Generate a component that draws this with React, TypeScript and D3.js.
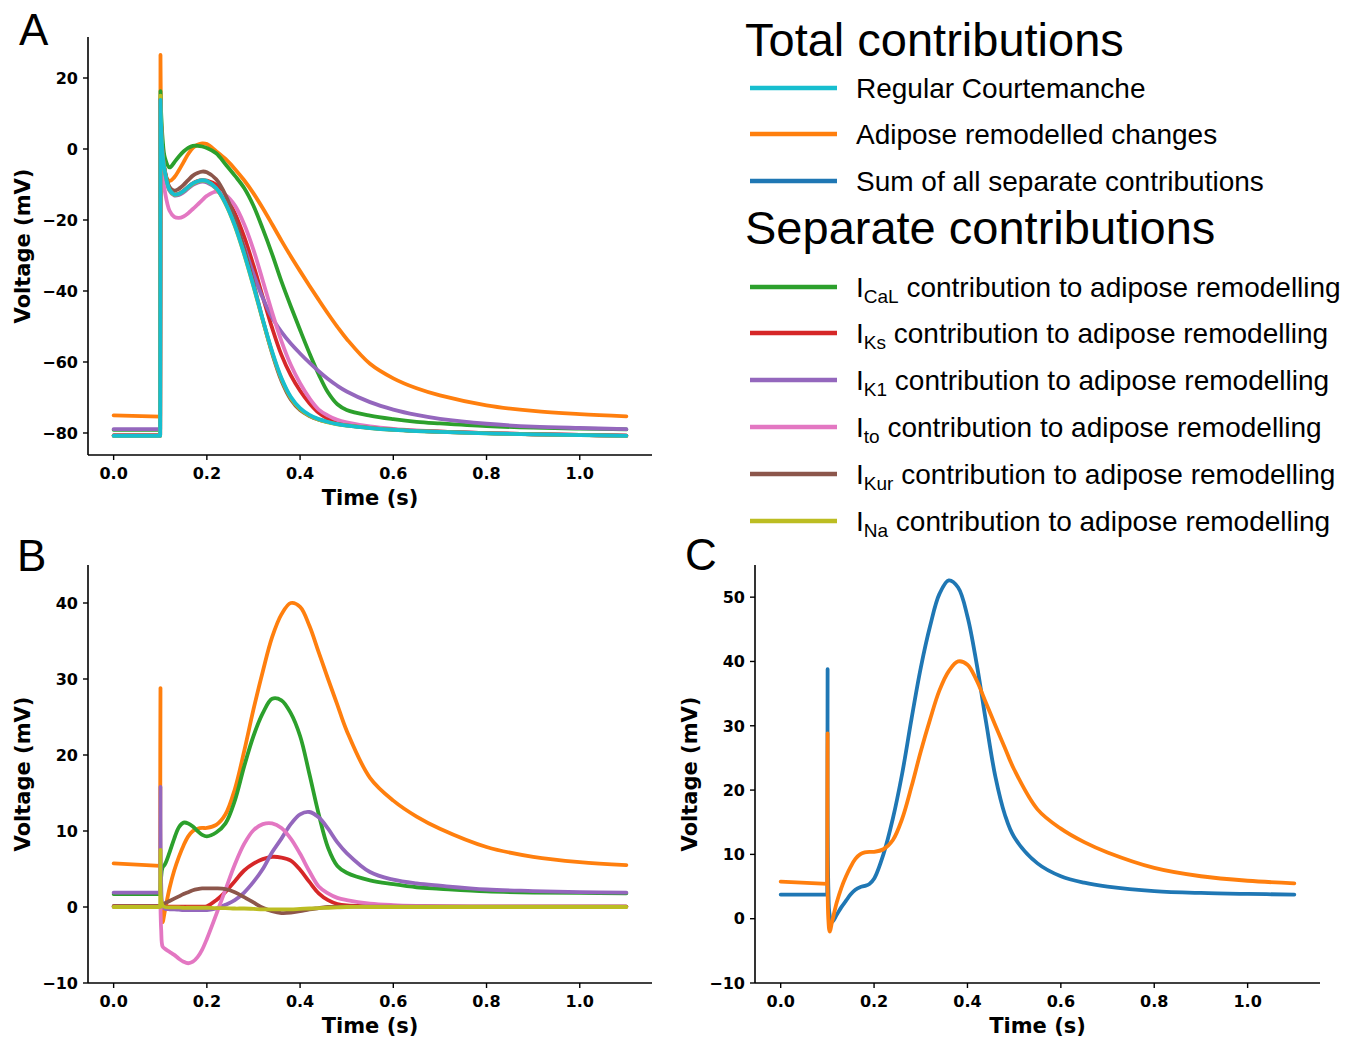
import React from 'react';
import * as d3 from 'd3';

// ---------- shared time axis (s) ----------
const TIME = [0, 0.0998, 0.1005, 0.102, 0.105, 0.11, 0.12, 0.13, 0.14, 0.15, 0.16, 0.17, 0.18, 0.19, 0.2, 0.22, 0.24, 0.26, 0.28, 0.3, 0.32, 0.34, 0.36, 0.38, 0.4, 0.42, 0.44, 0.46, 0.48, 0.5, 0.55, 0.6, 0.65, 0.7, 0.8, 0.9, 1.0, 1.1];

// ---------- Panel A: action potentials (mV) ----------
const A_REGULAR = [-80.8, -80.8, 13.8, 6, -1.5, -6.5, -11.5, -12.8, -12.6, -11.8, -10.7, -9.7, -9.1, -8.8, -9.0, -11.0, -15.3, -21.5, -29.5, -38.5, -48, -57, -64.5, -69.8, -73.0, -74.9, -76.1, -76.9, -77.5, -77.9, -78.6, -79.1, -79.45, -79.7, -80.1, -80.4, -80.6, -80.8];
const A_ADIPOSE = [-75.05, -75.4, 26.5, 8, -3.5, -7.0, -9.0, -8.0, -6.0, -3.7, -1.4, 0.3, 1.2, 1.6, 1.4, -0.6, -2.8, -5.6, -8.8, -12.5, -16.7, -21.2, -25.8, -30.2, -34.4, -38.5, -42.5, -46.4, -50.1, -53.5, -60.5, -64.6, -67.4, -69.4, -72.2, -73.8, -74.7, -75.3];
const A_ICAL = [-79.1, -79.1, 16.3, 10, 3.0, -2.5, -5.2, -3.8, -2.1, -0.7, 0.3, 0.9, 0.9, 0.7, 0.3, -1.2, -4.3, -7.5, -11.0, -16.0, -22.5, -29.6, -37.3, -44.3, -51.0, -57.5, -63.5, -68.6, -71.9, -73.5, -75.1, -76.1, -76.85, -77.3, -78.05, -78.5, -78.75, -79.0];
const A_IKS = [-80.7, -80.7, 14.0, 6.1, -1.4, -6.45, -11.45, -12.75, -12.55, -11.75, -10.65, -9.65, -9.05, -8.75, -8.9, -10.1, -13.3, -18.1, -24.7, -32.8, -41.7, -50.4, -58.0, -63.7, -68.1, -71.6, -74.3, -76.0, -77.1, -77.7, -78.5, -79.05, -79.4, -79.65, -80.05, -80.35, -80.55, -80.75];
const A_IK1 = [-78.9, -78.9, 14.0, 7, -1.3, -6.7, -11.8, -13.1, -12.95, -12.2, -11.1, -10.1, -9.5, -9.2, -9.4, -11.2, -15.0, -20.6, -27.6, -35.2, -42.0, -47.5, -51.5, -54.8, -57.6, -60.2, -62.6, -64.8, -66.7, -68.3, -71.3, -73.4, -74.9, -76.0, -77.4, -78.2, -78.6, -78.9];
const A_ITO = [-80.8, -80.8, 13.8, 3.0, -6.7, -12.0, -17.4, -19.1, -19.4, -19.0, -18.1, -16.9, -15.7, -14.4, -13.2, -12.0, -13.0, -15.9, -21.2, -28.4, -37.1, -46.0, -54.1, -60.8, -66.0, -70.2, -73.4, -75.1, -76.3, -77.0, -78.15, -78.85, -79.3, -79.6, -80.05, -80.35, -80.55, -80.75];
const A_IKUR = [-80.7, -80.7, 14.0, 6.2, -1.2, -6.0, -10.7, -11.7, -11.2, -10.1, -8.75, -7.5, -6.75, -6.35, -6.55, -8.55, -12.95, -19.55, -28.2, -37.9, -48.1, -57.55, -65.3, -70.55, -73.55, -75.2, -76.25, -76.9, -77.45, -77.85, -78.55, -79.05, -79.4, -79.65, -80.05, -80.35, -80.55, -80.75];
const A_INA = [-80.8, -80.8, 15.0, 7.0, -1.3, -6.5, -11.55, -12.85, -12.65, -11.9, -10.8, -9.8, -9.2, -8.9, -9.1, -11.15, -15.45, -21.7, -29.7, -38.75, -48.3, -57.3, -64.8, -70.1, -73.25, -75.1, -76.25, -77.0, -77.55, -77.9, -78.6, -79.1, -79.45, -79.7, -80.1, -80.4, -80.6, -80.8];

// ---------- Panel B: differences from regular (mV) ----------
const B_ADIPOSE = [5.75, 5.4, 28.8, 0, -2.0, -0.5, 2.5, 4.8, 6.6, 8.1, 9.3, 10.0, 10.3, 10.4, 10.4, 10.8, 12.2, 15.5, 20.5, 26, 31, 35.5, 38.5, 40, 39.5, 37.0, 33.5, 30.0, 26.6, 23.2, 17.0, 14.0, 11.9, 10.3, 7.9, 6.6, 5.9, 5.5];
const B_ICAL = [1.7, 1.7, 2.4, 4.0, 5.2, 5.6, 7.2, 9.0, 10.5, 11.1, 11.0, 10.6, 10.0, 9.5, 9.3, 9.8, 11.0, 14.0, 18.5, 22.5, 25.5, 27.4, 27.2, 25.5, 22.5, 17.5, 12.2, 7.8, 5.4, 4.5, 3.5, 3.0, 2.6, 2.4, 2.05, 1.9, 1.85, 1.8];
const B_IKS = [0.1, 0.1, 0.1, 0.1, 0.1, 0.05, 0.05, 0.05, 0.05, 0.05, 0.05, 0.05, 0.05, 0.05, 0.1, 0.9, 2.0, 3.4, 4.8, 5.7, 6.3, 6.6, 6.5, 6.1, 4.9, 3.3, 1.8, 0.9, 0.4, 0.2, 0.1, 0.05, 0.05, 0.05, 0.05, 0.05, 0.05, 0.05];
const B_IK1 = [1.9, 1.9, 15.8, 3, 0.2, -0.2, -0.3, -0.3, -0.35, -0.4, -0.4, -0.4, -0.4, -0.4, -0.4, -0.2, 0.3, 0.9, 1.9, 3.3, 5.0, 7.2, 9.0, 10.9, 12.2, 12.5, 11.8, 10.3, 8.5, 7.1, 4.6, 3.6, 3.1, 2.8, 2.3, 2.1, 1.95, 1.9];
const B_ITO = [0, 0, 0, -3, -5.2, -5.5, -5.9, -6.3, -6.8, -7.2, -7.4, -7.2, -6.6, -5.6, -4.2, -1.0, 2.3, 5.6, 8.3, 10.1, 10.9, 11.0, 10.4, 9.0, 7.0, 4.7, 2.7, 1.8, 1.2, 0.9, 0.45, 0.25, 0.15, 0.1, 0.05, 0.05, 0.05, 0.05];
const B_IKUR = [0.1, 0.1, 0.1, 0.2, 0.3, 0.5, 0.8, 1.1, 1.4, 1.7, 1.95, 2.2, 2.35, 2.45, 2.45, 2.45, 2.35, 1.95, 1.3, 0.6, -0.1, -0.55, -0.8, -0.75, -0.55, -0.3, -0.15, 0, 0.05, 0.05, 0.05, 0.05, 0.05, 0.05, 0.05, 0.05, 0.05, 0.05];
const B_INA = [0, 0, 7.5, 1.0, 0.2, 0, -0.05, -0.05, -0.05, -0.1, -0.1, -0.1, -0.1, -0.1, -0.1, -0.15, -0.15, -0.2, -0.2, -0.25, -0.3, -0.3, -0.3, -0.3, -0.25, -0.2, -0.15, -0.1, -0.05, 0, 0, 0, 0, 0, 0, 0, 0, 0];

// ---------- Panel C: sum of separate contributions vs adipose (mV) ----------
const C_SUM = [3.75, 3.75, 38.8, 5, 0.5, -0.5, 0.6, 1.8, 2.8, 3.8, 4.5, 4.9, 5.1, 5.4, 6.2, 10.0, 15.5, 22.5, 31, 39, 45.5, 50.5, 52.6, 51.5, 47, 39.5, 30.5, 22.0, 16.2, 12.7, 8.6, 6.6, 5.6, 5.0, 4.3, 4.0, 3.85, 3.75];
const C_ADIPOSE = [5.75, 5.4, 28.8, 0, -2.0, -0.5, 2.5, 4.8, 6.6, 8.1, 9.3, 10.0, 10.3, 10.4, 10.4, 10.8, 12.2, 15.5, 20.5, 26, 31, 35.5, 38.5, 40, 39.5, 37.0, 33.5, 30.0, 26.6, 23.2, 17.0, 14.0, 11.9, 10.3, 7.9, 6.6, 5.9, 5.5];

// ---------- ticks ----------
const X_TICKS = [0, 0.2, 0.4, 0.6, 0.8, 1.0];
const A_Y_TICKS = [-80, -60, -40, -20, 0, 20];
const B_Y_TICKS = [-10, 0, 10, 20, 30, 40];
const C_Y_TICKS = [-10, 0, 10, 20, 30, 40, 50];

// ---------- colours ----------
const COL = {
  blue: '#1f77b4', orange: '#ff7f0e', green: '#2ca02c', red: '#d62728', purple: '#9467bd',
  brown: '#8c564b', pink: '#e377c2', olive: '#bcbd22', cyan: '#17becf',
};

const SERIES_A = [
  { v: A_ADIPOSE, c: COL.orange }, { v: A_ICAL, c: COL.green }, { v: A_IKS, c: COL.red },
  { v: A_IK1, c: COL.purple }, { v: A_ITO, c: COL.pink }, { v: A_IKUR, c: COL.brown },
  { v: A_INA, c: COL.olive }, { v: A_REGULAR, c: COL.cyan },
];
const SERIES_B = [
  { v: B_ADIPOSE, c: COL.orange }, { v: B_ICAL, c: COL.green }, { v: B_IKS, c: COL.red },
  { v: B_IK1, c: COL.purple }, { v: B_ITO, c: COL.pink }, { v: B_IKUR, c: COL.brown },
  { v: B_INA, c: COL.olive },
];
const SERIES_C = [{ v: C_SUM, c: COL.blue }, { v: C_ADIPOSE, c: COL.orange }];

const TICK_FONT = "'DejaVu Sans', sans-serif";
const LEG_FONT = "'Liberation Sans', Arial, sans-serif";

const fmtY = (v: number) => (v < 0 ? '\u2212' + Math.abs(v) : String(v));
const SPIKE_INDEX = 2;

function Panel({ left, right, top, bottom, yDomain, yTicks, series, letter, letterX, letterY }: any) {
  const x = d3.scaleLinear().domain([-0.055, 1.155]).range([left, right]);
  const y = d3.scaleLinear().domain(yDomain).range([bottom, top]);
  const pts = (v: number[]) => v.map((d, i) => [x(TIME[i]), y(d)] as [number, number]);
  const upstroke = d3.line();
  const smooth = d3.line().curve(d3.curveCatmullRom.alpha(0.5));
  return (
    <g>
      {series.map((s: any, i: number) => {
        const p = pts(s.v);
        const d = (upstroke(p.slice(0, SPIKE_INDEX + 1)) || '') + (smooth(p.slice(SPIKE_INDEX)) || '');
        return <path key={i} d={d} fill="none" stroke={s.c} strokeWidth={3.8} strokeLinejoin="round" strokeLinecap="round" />;
      })}
      <line x1={left} x2={left} y1={top} y2={bottom} stroke="#000" strokeWidth={1.6} />
      <line x1={left} x2={right} y1={bottom} y2={bottom} stroke="#000" strokeWidth={1.6} />
      {yTicks.map((t: number) => (
        <g key={'y' + t}>
          <line x1={left - 5} x2={left} y1={y(t)} y2={y(t)} stroke="#000" strokeWidth={1.4} />
          <text x={left - 10} y={y(t)} dy="0.36em" textAnchor="end" fontFamily={TICK_FONT} fontWeight="bold" fontSize={16}>{fmtY(t)}</text>
        </g>
      ))}
      {X_TICKS.map((t: number) => (
        <g key={'x' + t}>
          <line x1={x(t)} x2={x(t)} y1={bottom} y2={bottom + 5} stroke="#000" strokeWidth={1.4} />
          <text x={x(t)} y={bottom + 24} textAnchor="middle" fontFamily={TICK_FONT} fontWeight="bold" fontSize={16}>{t.toFixed(1)}</text>
        </g>
      ))}
      <text x={(left + right) / 2} y={bottom + 50} textAnchor="middle" fontFamily={TICK_FONT} fontWeight="bold" fontSize={21}>Time (s)</text>
      <text transform={`translate(${left - 58},${(top + bottom) / 2}) rotate(-90)`} textAnchor="middle" fontFamily={TICK_FONT} fontWeight="bold" fontSize={21}>Voltage (mV)</text>
      <text x={letterX} y={letterY} fontFamily={LEG_FONT} fontSize={44}>{letter}</text>
    </g>
  );
}

const TOTAL_ITEMS = [
  { label: 'Regular Courtemanche', c: COL.cyan, y: 88 },
  { label: 'Adipose remodelled changes', c: COL.orange, y: 134 },
  { label: 'Sum of all separate contributions', c: COL.blue, y: 181 },
];
const SEP_ITEMS = [
  { sub: 'CaL', c: COL.green, y: 287 },
  { sub: 'Ks', c: COL.red, y: 333 },
  { sub: 'K1', c: COL.purple, y: 380 },
  { sub: 'to', c: COL.pink, y: 427 },
  { sub: 'Kur', c: COL.brown, y: 474 },
  { sub: 'Na', c: COL.olive, y: 521 },
];

function Legend() {
  return (
    <g fontFamily={LEG_FONT} fill="#000">
      <text x={745} y={56} fontSize={47}>Total contributions</text>
      {TOTAL_ITEMS.map((it) => (
        <g key={it.label}>
          <line x1={750} x2={837} y1={it.y} y2={it.y} stroke={it.c} strokeWidth={4.5} />
          <text x={856} y={it.y + 10} fontSize={28}>{it.label}</text>
        </g>
      ))}
      <text x={745} y={244} fontSize={47}>Separate contributions</text>
      {SEP_ITEMS.map((it) => (
        <g key={it.sub}>
          <line x1={750} x2={837} y1={it.y} y2={it.y} stroke={it.c} strokeWidth={4.5} />
          <text x={856} y={it.y + 10} fontSize={28}>
            I<tspan fontSize={19} dy={6}>{it.sub}</tspan><tspan dy={-6}> contribution to adipose remodelling</tspan>
          </text>
        </g>
      ))}
    </g>
  );
}

export default function App() {
  return (
    <svg width={1357} height={1038} style={{ position: 'absolute', left: 0, top: 0, background: '#fff' }}>
      <rect width={1357} height={1038} fill="#fff" />
      <Panel left={88} right={652} top={37} bottom={455} yDomain={[-86.2, 31.55]} yTicks={A_Y_TICKS} series={SERIES_A} letter="A" letterX={19} letterY={45} />
      <Panel left={88} right={652} top={565} bottom={983} yDomain={[-10, 45]} yTicks={B_Y_TICKS} series={SERIES_B} letter="B" letterX={17} letterY={571} />
      <Panel left={755} right={1320} top={565} bottom={983} yDomain={[-10, 55]} yTicks={C_Y_TICKS} series={SERIES_C} letter="C" letterX={685} letterY={570} />
      <Legend />
    </svg>
  );
}
